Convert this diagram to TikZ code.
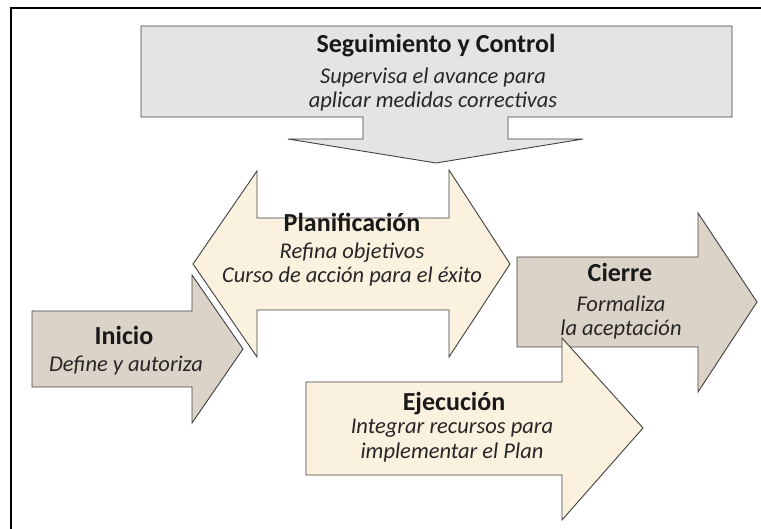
\documentclass[tikz,border=0pt]{standalone}
\usepackage{fontspec}
\setmainfont{Carlito}
\definecolor{segfill}{HTML}{E4E4E2}
\definecolor{lightfill}{HTML}{FBF1DF}
\definecolor{darkfill}{HTML}{DBD3C8}
\definecolor{edge}{HTML}{404040}
\tikzstyle{phase} = [draw=edge, line width=0.9pt, line join=miter]
\tikzstyle{phasetitle} = [anchor=base, inner sep=0pt, font=\fontsize{26}{28}\selectfont\bfseries, text=black!90]
\tikzstyle{phasedesc} = [anchor=base, inner sep=0pt, align=center, font=\fontsize{22.5}{24.5}\selectfont\itshape, text=black!85]

\begin{document}
\begin{tikzpicture}[x=1pt, y=-1pt]
		\useasboundingbox (0,0) rectangle (761,529);
		\draw [line width=2.4pt] (11,529) -- (11,8) -- (761,8);

		% anchor=base of a two-line node sits on its last line
		\draw [phase, fill=segfill] (141,26) -- (732,26) -- (732,117) -- (508,117) -- (508,139) -- (583,139) -- (436,163) -- (288,139) -- (363,139) -- (363,117) -- (141,117) -- cycle;
		\node (seg) [phasetitle] at (436,53) {Seguimiento y Control};
		\node (segdesc) [phasedesc] at (433,108) {Supervisa el avance para\\aplicar medidas correctivas};

		\draw [phase, fill=darkfill] (517,257) -- (698,257) -- (698,213) -- (757,302) -- (698,392) -- (698,347) -- (517,347) -- cycle;
		\node (cie) [phasetitle] at (620,282) {Cierre};
		\node (ciedesc) [phasedesc] at (621,336) {Formaliza\\la aceptación};

		\draw [phase, fill=darkfill] (32,311) -- (192,311) -- (192,275) -- (243,349) -- (192,423) -- (192,387) -- (32,387) -- cycle;
		\node (ini) [phasetitle] at (124,345) {Inicio};
		\node (inidesc) [phasedesc] at (126,372) {Define y autoriza};

		\draw [phase, fill=lightfill] (193,264) -- (257,171) -- (257,218) -- (449,218) -- (449,170) -- (510,264) -- (449,357) -- (449,310) -- (257,310) -- (257,357) -- cycle;
		\node (pla) [phasetitle] at (352,232) {Planificación};
		\node (pladesc) [phasedesc] at (352,283) {Refina objetivos\\Curso de acción para el éxito};

		\draw [phase, fill=lightfill] (306,382) -- (562,382) -- (562,338) -- (643,428) -- (562,520) -- (562,475) -- (306,475) -- cycle;
		\node (eje) [phasetitle] at (454,410) {Ejecución};
		\node (ejedesc) [phasedesc] at (452,458) {Integrar recursos para\\implementar el Plan};
	  \end{tikzpicture}
\end{document}
